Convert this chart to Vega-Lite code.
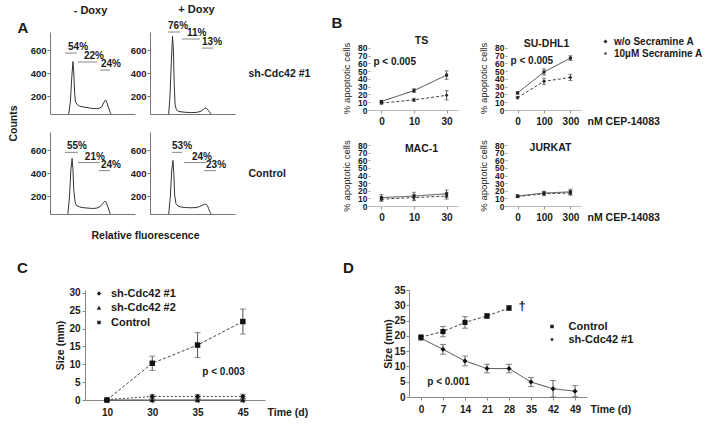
{
"$schema": "https://vega.github.io/schema/vega-lite/v6.json",
"background": "white",
"padding": {"left": 8, "top": 4, "right": 0, "bottom": 0},
"config": {
  "font": "Liberation Sans",
  "view": {"stroke": null},
  "axis": {"labelFontWeight": "bold", "labelColor": "#1a1a1a", "titleFontWeight": "bold", "titleColor": "#1a1a1a", "domainColor": "#888", "tickColor": "#888", "grid": false, "labelFontSize": 10, "titleFontSize": 10.5, "tickSize": 3},
  "title": {"fontWeight": "bold", "color": "#1a1a1a"},
  "legend": {"labelFontWeight": "bold", "labelColor": "#1a1a1a"}
},
"resolve": {"scale": {"strokeDash": "independent"}},
"spacing": 19,
"vconcat": [
{
 "spacing": 21,
 "resolve": {"scale": {"strokeDash": "independent"}},
 "hconcat": [
 {
  "columns": 2,
  "bounds": "flush",
  "spacing": {"row": 18, "column": 15},
  "concat": [
   {
    "width": 85, "height": 82,
    "title": {"text": "- Doxy", "fontSize": 11, "offset": 4, "dx": -2},
    "data": {"values": [
     {"k":"h","x":22,"n":44},{"k":"h","x":24,"n":150},{"k":"h","x":25.5,"n":350},{"k":"h","x":27,"n":500},{"k":"h","x":28,"n":400},{"k":"h","x":29,"n":220},{"k":"h","x":30,"n":150},{"k":"h","x":32,"n":125},{"k":"h","x":35,"n":112},{"k":"h","x":40,"n":104},{"k":"h","x":45,"n":98},{"k":"h","x":50,"n":92},{"k":"h","x":55,"n":90},{"k":"h","x":58,"n":94},{"k":"h","x":61,"n":108},{"k":"h","x":63,"n":140},{"k":"h","x":65,"n":163},{"k":"h","x":66,"n":160},{"k":"h","x":67,"n":140},{"k":"h","x":69,"n":95},{"k":"h","x":71,"n":55},{"k":"h","x":72,"n":44},
     {"k":"g","x":17.6,"x2":31.8,"n":574,"tx":21.2,"t":"54%"},
     {"k":"g","x":32.9,"x2":55.3,"n":496,"tx":40,"t":"22%"},
     {"k":"g","x":58.8,"x2":70.6,"n":426,"tx":60,"t":"24%"}
    ]},
    "resolve": {"axis": {"x": "independent"}},
    "layer": [
     {"transform": [{"filter": "datum.k == 'h'"}], "mark": {"type": "line", "stroke": "#333", "strokeWidth": 1, "clip": true},
      "encoding": {"x": {"field": "x", "type": "quantitative", "scale": {"domain": [0, 100], "nice": false}, "axis": {"title": null, "labels": false, "ticks": false, "domainColor": "#777"}},
                   "y": {"field": "n", "type": "quantitative", "scale": {"domain": [44, 757], "nice": false, "zero": false}, "axis": {"title": "Counts", "titleX": -37, "titleY": 91, "titleBaseline": "middle", "titleFontSize": 10.5, "values": [200, 400, 600], "tickSize": 3, "labelFontSize": 9.5, "labelPadding": 1, "domainColor": "#777", "tickColor": "#777"}}}},
     {"transform": [{"filter": "datum.k == 'g'"}], "mark": {"type": "rule", "stroke": "#888", "strokeWidth": 1},
      "encoding": {"x": {"field": "x", "type": "quantitative", "axis": null}, "x2": {"field": "x2"},
                   "y": {"field": "n", "type": "quantitative", "axis": {"title": "Counts", "titleX": -37, "titleY": 91, "titleBaseline": "middle", "titleFontSize": 10.5, "values": [200, 400, 600], "tickSize": 3, "labelFontSize": 9.5, "labelPadding": 1, "domainColor": "#777", "tickColor": "#777"}}}},
     {"transform": [{"filter": "datum.k == 'g'"}], "mark": {"type": "text", "align": "left", "baseline": "middle", "dy": -6, "fontWeight": "bold", "fontSize": 10, "color": "#1a1a1a"},
      "encoding": {"x": {"field": "tx", "type": "quantitative", "axis": {"orient": "top", "title": "A", "titleX": -33, "titleY": -5, "titleAlign": "left", "titleBaseline": "middle", "titleAngle": 0, "titleFontSize": 15, "labels": false, "ticks": false, "domain": false}},
                   "y": {"field": "n", "type": "quantitative", "axis": {"title": "Counts", "titleX": -37, "titleY": 91, "titleBaseline": "middle", "titleFontSize": 10.5, "values": [200, 400, 600], "tickSize": 3, "labelFontSize": 9.5, "labelPadding": 1, "domainColor": "#777", "tickColor": "#777"}}, "text": {"field": "t"}}}
    ]
   },
   {
    "width": 85, "height": 82,
    "title": {"text": "+ Doxy", "fontSize": 11, "offset": 6, "dx": 4},
    "data": {"values": [
     {"k":"h","x":22,"n":44},{"k":"h","x":23.5,"n":200},{"k":"h","x":25,"n":480},{"k":"h","x":26.5,"n":722},{"k":"h","x":27.5,"n":600},{"k":"h","x":28.5,"n":300},{"k":"h","x":29.5,"n":130},{"k":"h","x":31,"n":80},{"k":"h","x":34,"n":66},{"k":"h","x":40,"n":60},{"k":"h","x":48,"n":56},{"k":"h","x":55,"n":58},{"k":"h","x":60,"n":68},{"k":"h","x":63,"n":85},{"k":"h","x":65,"n":96},{"k":"h","x":67,"n":90},{"k":"h","x":69,"n":72},{"k":"h","x":71,"n":52},{"k":"h","x":72,"n":44},
     {"k":"g","x":21.2,"x2":35.3,"n":757,"tx":21.2,"t":"76%"},
     {"k":"g","x":37.6,"x2":58.8,"n":696,"tx":43.5,"t":"11%"},
     {"k":"g","x":61.2,"x2":74.1,"n":617,"tx":61.2,"t":"13%"}
    ]},
    "resolve": {"axis": {"y": "independent"}},
    "layer": [
     {"transform": [{"filter": "datum.k == 'h'"}], "mark": {"type": "line", "stroke": "#333", "strokeWidth": 1, "clip": true},
      "encoding": {"x": {"field": "x", "type": "quantitative", "scale": {"domain": [0, 100], "nice": false}, "axis": {"title": null, "labels": false, "ticks": false, "domainColor": "#777"}},
                   "y": {"field": "n", "type": "quantitative", "scale": {"domain": [44, 757], "nice": false, "zero": false}, "axis": {"title": null, "values": [200, 400, 600], "tickSize": 3, "labelFontSize": 9.5, "labelPadding": 1, "domainColor": "#777", "tickColor": "#777"}}}},
     {"transform": [{"filter": "datum.k == 'g'"}], "mark": {"type": "rule", "stroke": "#888", "strokeWidth": 1},
      "encoding": {"x": {"field": "x", "type": "quantitative", "axis": {"title": null, "labels": false, "ticks": false, "domainColor": "#777"}}, "x2": {"field": "x2"},
                   "y": {"field": "n", "type": "quantitative", "axis": {"orient": "right", "title": "sh-Cdc42 #1", "titleX": 13, "titleY": 41, "titleAngle": 0, "titleAlign": "left", "titleBaseline": "middle", "labels": false, "ticks": false, "domain": false, "titleFontSize": 10.5}}}},
     {"transform": [{"filter": "datum.k == 'g'"}], "mark": {"type": "text", "align": "left", "baseline": "middle", "dy": -6, "fontWeight": "bold", "fontSize": 10, "color": "#1a1a1a"},
      "encoding": {"x": {"field": "tx", "type": "quantitative", "axis": {"title": null, "labels": false, "ticks": false, "domainColor": "#777"}},
                   "y": {"field": "n", "type": "quantitative", "axis": null}, "text": {"field": "t"}}}
    ]
   },
   {
    "width": 85, "height": 82,
    "data": {"values": [
     {"k":"h","x":21,"n":44},{"k":"h","x":23,"n":200},{"k":"h","x":24.5,"n":420},{"k":"h","x":26,"n":527},{"k":"h","x":27,"n":430},{"k":"h","x":28,"n":250},{"k":"h","x":29.5,"n":150},{"k":"h","x":31,"n":118},{"k":"h","x":35,"n":105},{"k":"h","x":40,"n":98},{"k":"h","x":45,"n":95},{"k":"h","x":50,"n":92},{"k":"h","x":55,"n":95},{"k":"h","x":59,"n":108},{"k":"h","x":62,"n":135},{"k":"h","x":64,"n":152},{"k":"h","x":65,"n":156},{"k":"h","x":66,"n":148},{"k":"h","x":68,"n":108},{"k":"h","x":70,"n":62},{"k":"h","x":71,"n":44},
     {"k":"g","x":17.6,"x2":32.9,"n":580,"tx":20,"t":"55%"},
     {"k":"g","x":32.9,"x2":58.8,"n":491,"tx":41,"t":"21%"},
     {"k":"g","x":57.6,"x2":70.6,"n":421,"tx":60,"t":"24%"}
    ]},
    "layer": [
     {"transform": [{"filter": "datum.k == 'h'"}], "mark": {"type": "line", "stroke": "#333", "strokeWidth": 1, "clip": true},
      "encoding": {"x": {"field": "x", "type": "quantitative", "scale": {"domain": [0, 100], "nice": false}, "axis": {"title": "Relative fluorescence", "titleX": 95, "titleY": 21, "titleAlign": "center", "titleBaseline": "middle", "titleFontSize": 10.5, "labels": false, "ticks": false, "domainColor": "#777"}},
                   "y": {"field": "n", "type": "quantitative", "scale": {"domain": [44, 757], "nice": false, "zero": false}, "axis": {"title": null, "values": [200, 400, 600], "tickSize": 3, "labelFontSize": 9.5, "labelPadding": 1, "domainColor": "#777", "tickColor": "#777"}}}},
     {"transform": [{"filter": "datum.k == 'g'"}], "mark": {"type": "rule", "stroke": "#888", "strokeWidth": 1},
      "encoding": {"x": {"field": "x", "type": "quantitative", "axis": {"title": "Relative fluorescence", "titleX": 95, "titleY": 21, "titleAlign": "center", "titleBaseline": "middle", "titleFontSize": 10.5, "labels": false, "ticks": false, "domainColor": "#777"}}, "x2": {"field": "x2"},
                   "y": {"field": "n", "type": "quantitative", "axis": {"title": null, "values": [200, 400, 600], "tickSize": 3, "labelFontSize": 9.5, "labelPadding": 1, "domainColor": "#777", "tickColor": "#777"}}}},
     {"transform": [{"filter": "datum.k == 'g'"}], "mark": {"type": "text", "align": "left", "baseline": "middle", "dy": -6, "fontWeight": "bold", "fontSize": 10, "color": "#1a1a1a"},
      "encoding": {"x": {"field": "tx", "type": "quantitative", "axis": {"title": "Relative fluorescence", "titleX": 95, "titleY": 21, "titleAlign": "center", "titleBaseline": "middle", "titleFontSize": 10.5, "labels": false, "ticks": false, "domainColor": "#777"}},
                   "y": {"field": "n", "type": "quantitative", "axis": {"title": null, "values": [200, 400, 600], "tickSize": 3, "labelFontSize": 9.5, "labelPadding": 1, "domainColor": "#777", "tickColor": "#777"}}, "text": {"field": "t"}}}
    ]
   },
   {
    "width": 85, "height": 82,
    "data": {"values": [
     {"k":"h","x":22,"n":44},{"k":"h","x":24,"n":200},{"k":"h","x":25.5,"n":420},{"k":"h","x":27,"n":510},{"k":"h","x":28,"n":400},{"k":"h","x":29,"n":210},{"k":"h","x":30.5,"n":135},{"k":"h","x":33,"n":112},{"k":"h","x":37,"n":104},{"k":"h","x":42,"n":100},{"k":"h","x":48,"n":98},{"k":"h","x":54,"n":100},{"k":"h","x":58,"n":108},{"k":"h","x":61,"n":118},{"k":"h","x":64,"n":128},{"k":"h","x":66,"n":130},{"k":"h","x":67.5,"n":118},{"k":"h","x":69,"n":90},{"k":"h","x":71,"n":55},{"k":"h","x":72,"n":44},
     {"k":"g","x":25.9,"x2":37.6,"n":580,"tx":25.9,"t":"53%"},
     {"k":"g","x":40,"x2":65.9,"n":491,"tx":49.4,"t":"24%"},
     {"k":"g","x":63.5,"x2":77.6,"n":421,"tx":65.9,"t":"23%"}
    ]},
    "resolve": {"axis": {"y": "independent"}},
    "layer": [
     {"transform": [{"filter": "datum.k == 'h'"}], "mark": {"type": "line", "stroke": "#333", "strokeWidth": 1, "clip": true},
      "encoding": {"x": {"field": "x", "type": "quantitative", "scale": {"domain": [0, 100], "nice": false}, "axis": {"title": null, "labels": false, "ticks": false, "domainColor": "#777"}},
                   "y": {"field": "n", "type": "quantitative", "scale": {"domain": [44, 757], "nice": false, "zero": false}, "axis": {"title": null, "values": [200, 400, 600], "tickSize": 3, "labelFontSize": 9.5, "labelPadding": 1, "domainColor": "#777", "tickColor": "#777"}}}},
     {"transform": [{"filter": "datum.k == 'g'"}], "mark": {"type": "rule", "stroke": "#888", "strokeWidth": 1},
      "encoding": {"x": {"field": "x", "type": "quantitative", "axis": {"title": null, "labels": false, "ticks": false, "domainColor": "#777"}}, "x2": {"field": "x2"},
                   "y": {"field": "n", "type": "quantitative", "axis": {"orient": "right", "title": "Control", "titleX": 13, "titleY": 41, "titleAngle": 0, "titleAlign": "left", "titleBaseline": "middle", "labels": false, "ticks": false, "domain": false, "titleFontSize": 10.5}}}},
     {"transform": [{"filter": "datum.k == 'g'"}], "mark": {"type": "text", "align": "left", "baseline": "middle", "dy": -6, "fontWeight": "bold", "fontSize": 10, "color": "#1a1a1a"},
      "encoding": {"x": {"field": "tx", "type": "quantitative", "axis": {"title": null, "labels": false, "ticks": false, "domainColor": "#777"}},
                   "y": {"field": "n", "type": "quantitative", "axis": null}, "text": {"field": "t"}}}
    ]
   }
  ]
 },
 {
  "title": {"text": "B", "anchor": "start", "frame": "bounds", "fontSize": 15, "dx": -10, "offset": 1},
  "columns": 2,
  "bounds": "flush",
  "spacing": {"row": 35, "column": 49},
  "resolve": {"scale": {"strokeDash": "independent"}},
  "concat": [
   {
    "width": 88, "height": 78,
    "data": {"values": [
     {"k":"d","g":"w/o Secramine A","dose":"0","m":9,"lo":7.5,"hi":10.5},
     {"k":"d","g":"w/o Secramine A","dose":"10","m":13,"lo":11,"hi":15},
     {"k":"d","g":"w/o Secramine A","dose":"30","m":19,"lo":13,"hi":25},
     {"k":"d","g":"10µM Secramine A","dose":"0","m":11,"lo":9.5,"hi":12.5},
     {"k":"d","g":"10µM Secramine A","dose":"10","m":25,"lo":22.5,"hi":27.5},
     {"k":"d","g":"10µM Secramine A","dose":"30","m":45,"lo":39.5,"hi":50.5},
     {"k":"p","dose":"0","m":62,"lab":"p < 0.005"}
    ]},
    "resolve": {"axis": {"x": "independent"}},
    "layer": [
     {"transform": [{"filter": "datum.k == 'd'"}], "mark": {"type": "line", "color": "#444", "strokeWidth": 1},
      "encoding": {"x": {"field": "dose", "type": "ordinal", "sort": ["0", "10", "30"], "scale": {"type": "point", "padding": 0.35}, "axis": {"title": null, "labelAngle": 0, "labelFontSize": 10, "tickSize": 3, "labelPadding": 3, "domainColor": "#bbb", "tickColor": "#999"}},
       "y": {"field": "m", "type": "quantitative", "scale": {"domain": [0, 100.6], "nice": false}, "axis": {"title": "% apoptotic cells", "titleFontWeight": "normal", "titleFontSize": 9.5, "titleY": 46, "values": [0,10,20,30,40,50,60,70,80], "labelOverlap": false, "labelFontSize": 8.5, "labelPadding": 1, "tickSize": 2, "titlePadding": 6, "domain": false, "tickColor": "#999"}},
       "strokeDash": {"field": "g", "type": "nominal", "scale": {"domain": ["w/o Secramine A", "10µM Secramine A"], "range": [[3, 2], [1, 0]]}, "legend": null}}},
     {"transform": [{"filter": "datum.k == 'd'"}], "mark": {"type": "errorbar", "color": "#555", "ticks": {"size": 4}},
      "encoding": {"x": {"field": "dose", "type": "ordinal", "sort": ["0", "10", "30"], "axis": null},
       "y": {"field": "lo", "type": "quantitative", "title": "% apoptotic cells", "axis": {"title": "% apoptotic cells", "titleFontWeight": "normal", "titleFontSize": 9.5, "titleY": 46, "values": [0,10,20,30,40,50,60,70,80], "labelOverlap": false, "labelFontSize": 8.5, "labelPadding": 1, "tickSize": 2, "titlePadding": 6, "domain": false, "tickColor": "#999"}}, "y2": {"field": "hi"}}},
     {"transform": [{"filter": "datum.g == 'w/o Secramine A'"}], "mark": {"type": "point", "shape": "diamond", "filled": true, "color": "#222", "size": 14, "opacity": 1},
      "encoding": {"x": {"field": "dose", "type": "ordinal", "sort": ["0", "10", "30"], "axis": null},
       "y": {"field": "m", "type": "quantitative", "axis": {"title": "% apoptotic cells", "titleFontWeight": "normal", "titleFontSize": 9.5, "titleY": 46, "values": [0,10,20,30,40,50,60,70,80], "labelOverlap": false, "labelFontSize": 8.5, "labelPadding": 1, "tickSize": 2, "titlePadding": 6, "domain": false, "tickColor": "#999"}}}},
     {"transform": [{"filter": "datum.g == '10µM Secramine A'"}], "mark": {"type": "point", "shape": "square", "filled": true, "color": "#222", "size": 9, "opacity": 1},
      "encoding": {"x": {"field": "dose", "type": "ordinal", "sort": ["0", "10", "30"], "axis": {"orient": "top", "title": "TS", "titleX": 51, "titleY": 8, "titleAlign": "center", "titleBaseline": "middle", "titleFontSize": 10.5, "labels": false, "ticks": false, "domain": false}},
       "y": {"field": "m", "type": "quantitative", "axis": {"title": "% apoptotic cells", "titleFontWeight": "normal", "titleFontSize": 9.5, "titleY": 46, "values": [0,10,20,30,40,50,60,70,80], "labelOverlap": false, "labelFontSize": 8.5, "labelPadding": 1, "tickSize": 2, "titlePadding": 6, "domain": false, "tickColor": "#999"}}}},
     {"transform": [{"filter": "datum.k == 'p'"}], "mark": {"type": "text", "align": "left", "baseline": "middle", "dx": -8, "fontWeight": "bold", "fontSize": 10, "color": "#1a1a1a"},
      "encoding": {"x": {"field": "dose", "type": "ordinal", "sort": ["0", "10", "30"], "axis": null},
       "y": {"field": "m", "type": "quantitative", "axis": {"title": "% apoptotic cells", "titleFontWeight": "normal", "titleFontSize": 9.5, "titleY": 46, "values": [0,10,20,30,40,50,60,70,80], "labelOverlap": false, "labelFontSize": 8.5, "labelPadding": 1, "tickSize": 2, "titlePadding": 6, "domain": false, "tickColor": "#999"}}, "text": {"field": "lab"}}}
    ]
   },
   {
    "width": 74, "height": 78,
    "data": {"values": [
     {"k":"d","g":"w/o Secramine A","dose":"0","m":16,"lo":14.5,"hi":17.5},
     {"k":"d","g":"w/o Secramine A","dose":"100","m":37,"lo":33,"hi":41},
     {"k":"d","g":"w/o Secramine A","dose":"300","m":42,"lo":38,"hi":46},
     {"k":"d","g":"10µM Secramine A","dose":"0","m":22,"lo":20.5,"hi":23.5},
     {"k":"d","g":"10µM Secramine A","dose":"100","m":49,"lo":45,"hi":53},
     {"k":"d","g":"10µM Secramine A","dose":"300","m":67,"lo":64,"hi":70},
     {"k":"p","dose":"0","m":63,"lab":"p < 0.005"}
    ]},
    "resolve": {"axis": {"x": "independent"}},
    "layer": [
     {"transform": [{"filter": "datum.k == 'd'"}], "mark": {"type": "line", "color": "#444", "strokeWidth": 1},
      "encoding": {"x": {"field": "dose", "type": "ordinal", "sort": ["0", "100", "300"], "scale": {"type": "point", "padding": 0.4}, "axis": {"title": "nM CEP-14083", "titleX": 80, "titleY": 11, "titleAlign": "left", "titleBaseline": "middle", "titleFontSize": 10.5, "labelAngle": 0, "labelFontSize": 10, "tickSize": 3, "labelPadding": 3, "domainColor": "#bbb", "tickColor": "#999"}},
       "y": {"field": "m", "type": "quantitative", "scale": {"domain": [0, 100.6], "nice": false}, "axis": {"title": "% apoptotic cells", "titleFontWeight": "normal", "titleFontSize": 9.5, "titleY": 46, "values": [0,10,20,30,40,50,60,70,80], "labelOverlap": false, "labelFontSize": 8.5, "labelPadding": 1, "tickSize": 2, "titlePadding": 6, "domain": false, "tickColor": "#999"}},
       "strokeDash": {"field": "g", "type": "nominal", "scale": {"domain": ["w/o Secramine A", "10µM Secramine A"], "range": [[3, 2], [1, 0]]},
         "legend": {"orient": "none", "legendX": 93, "legendY": 4, "title": null, "labelFontSize": 10, "labelOffset": 3, "rowPadding": 1, "symbolSize": 100, "symbolStrokeWidth": 1, "symbolStrokeColor": "#333", "symbolFillColor": "#222",
           "encode": {"symbols": {"update": {"shape": {"signal": "datum.value == 'w/o Secramine A' ? 'M-1.7,0H1.7M0,-0.4L0.4,0L0,0.4L-0.4,0Z' : 'M-1.7,0H1.7M-0.22,-0.22H0.22V0.22H-0.22Z'"}, "fill": {"value": "#222"}}}}}}}},
     {"transform": [{"filter": "datum.k == 'd'"}], "mark": {"type": "errorbar", "color": "#555", "ticks": {"size": 4}},
      "encoding": {"x": {"field": "dose", "type": "ordinal", "sort": ["0", "100", "300"], "axis": null},
       "y": {"field": "lo", "type": "quantitative", "title": "% apoptotic cells", "axis": {"title": "% apoptotic cells", "titleFontWeight": "normal", "titleFontSize": 9.5, "titleY": 46, "values": [0,10,20,30,40,50,60,70,80], "labelOverlap": false, "labelFontSize": 8.5, "labelPadding": 1, "tickSize": 2, "titlePadding": 6, "domain": false, "tickColor": "#999"}}, "y2": {"field": "hi"}}},
     {"transform": [{"filter": "datum.g == 'w/o Secramine A'"}], "mark": {"type": "point", "shape": "diamond", "filled": true, "color": "#222", "size": 14, "opacity": 1},
      "encoding": {"x": {"field": "dose", "type": "ordinal", "sort": ["0", "100", "300"], "axis": null},
       "y": {"field": "m", "type": "quantitative", "axis": {"title": "% apoptotic cells", "titleFontWeight": "normal", "titleFontSize": 9.5, "titleY": 46, "values": [0,10,20,30,40,50,60,70,80], "labelOverlap": false, "labelFontSize": 8.5, "labelPadding": 1, "tickSize": 2, "titlePadding": 6, "domain": false, "tickColor": "#999"}}}},
     {"transform": [{"filter": "datum.g == '10µM Secramine A'"}], "mark": {"type": "point", "shape": "square", "filled": true, "color": "#222", "size": 9, "opacity": 1},
      "encoding": {"x": {"field": "dose", "type": "ordinal", "sort": ["0", "100", "300"], "axis": {"orient": "top", "title": "SU-DHL1", "titleX": 39, "titleY": 11, "titleAlign": "center", "titleBaseline": "middle", "titleFontSize": 10.5, "labels": false, "ticks": false, "domain": false}},
       "y": {"field": "m", "type": "quantitative", "axis": {"title": "% apoptotic cells", "titleFontWeight": "normal", "titleFontSize": 9.5, "titleY": 46, "values": [0,10,20,30,40,50,60,70,80], "labelOverlap": false, "labelFontSize": 8.5, "labelPadding": 1, "tickSize": 2, "titlePadding": 6, "domain": false, "tickColor": "#999"}}}},
     {"transform": [{"filter": "datum.k == 'p'"}], "mark": {"type": "text", "align": "left", "baseline": "middle", "dx": -7, "fontWeight": "bold", "fontSize": 10, "color": "#1a1a1a"},
      "encoding": {"x": {"field": "dose", "type": "ordinal", "sort": ["0", "100", "300"], "axis": null},
       "y": {"field": "m", "type": "quantitative", "axis": {"title": "% apoptotic cells", "titleFontWeight": "normal", "titleFontSize": 9.5, "titleY": 46, "values": [0,10,20,30,40,50,60,70,80], "labelOverlap": false, "labelFontSize": 8.5, "labelPadding": 1, "tickSize": 2, "titlePadding": 6, "domain": false, "tickColor": "#999"}}, "text": {"field": "lab"}}}
    ]
   },
   {
    "width": 88, "height": 61,
    "data": {"values": [
     {"k":"d","g":"w/o Secramine A","dose":"0","m":9,"lo":6,"hi":12},
     {"k":"d","g":"w/o Secramine A","dose":"10","m":11,"lo":7,"hi":15},
     {"k":"d","g":"w/o Secramine A","dose":"30","m":13,"lo":9,"hi":17},
     {"k":"d","g":"10µM Secramine A","dose":"0","m":11,"lo":7,"hi":15},
     {"k":"d","g":"10µM Secramine A","dose":"10","m":13,"lo":8,"hi":18},
     {"k":"d","g":"10µM Secramine A","dose":"30","m":16,"lo":11,"hi":21}
    ]},
    "resolve": {"axis": {"x": "independent"}},
    "layer": [
     {"mark": {"type": "line", "color": "#444", "strokeWidth": 1},
      "encoding": {"x": {"field": "dose", "type": "ordinal", "sort": ["0", "10", "30"], "scale": {"type": "point", "padding": 0.35}, "axis": {"title": null, "labelAngle": 0, "labelFontSize": 10, "tickSize": 3, "labelPadding": 3, "domainColor": "#bbb", "tickColor": "#999"}},
       "y": {"field": "m", "type": "quantitative", "scale": {"domain": [0, 80]}, "axis": {"title": "% apoptotic cells", "titleFontWeight": "normal", "titleFontSize": 9.5, "values": [0,10,20,30,40,50,60,70,80], "labelOverlap": false, "labelFontSize": 8.5, "labelPadding": 1, "tickSize": 2, "titlePadding": 6, "domain": false, "tickColor": "#999"}},
       "strokeDash": {"field": "g", "type": "nominal", "scale": {"domain": ["w/o Secramine A", "10µM Secramine A"], "range": [[3, 2], [1, 0]]}, "legend": null}}},
     {"mark": {"type": "errorbar", "color": "#555", "ticks": {"size": 4}},
      "encoding": {"x": {"field": "dose", "type": "ordinal", "sort": ["0", "10", "30"], "axis": null},
       "y": {"field": "lo", "type": "quantitative", "title": "% apoptotic cells", "axis": {"title": "% apoptotic cells", "titleFontWeight": "normal", "titleFontSize": 9.5, "values": [0,10,20,30,40,50,60,70,80], "labelOverlap": false, "labelFontSize": 8.5, "labelPadding": 1, "tickSize": 2, "titlePadding": 6, "domain": false, "tickColor": "#999"}}, "y2": {"field": "hi"}}},
     {"transform": [{"filter": "datum.g == 'w/o Secramine A'"}], "mark": {"type": "point", "shape": "diamond", "filled": true, "color": "#222", "size": 14, "opacity": 1},
      "encoding": {"x": {"field": "dose", "type": "ordinal", "sort": ["0", "10", "30"], "axis": null},
       "y": {"field": "m", "type": "quantitative", "axis": {"title": "% apoptotic cells", "titleFontWeight": "normal", "titleFontSize": 9.5, "values": [0,10,20,30,40,50,60,70,80], "labelOverlap": false, "labelFontSize": 8.5, "labelPadding": 1, "tickSize": 2, "titlePadding": 6, "domain": false, "tickColor": "#999"}}}},
     {"transform": [{"filter": "datum.g == '10µM Secramine A'"}], "mark": {"type": "point", "shape": "square", "filled": true, "color": "#222", "size": 9, "opacity": 1},
      "encoding": {"x": {"field": "dose", "type": "ordinal", "sort": ["0", "10", "30"], "axis": {"orient": "top", "title": "MAC-1", "titleX": 51, "titleY": 3, "titleAlign": "center", "titleBaseline": "middle", "titleFontSize": 10.5, "labels": false, "ticks": false, "domain": false}},
       "y": {"field": "m", "type": "quantitative", "axis": {"title": "% apoptotic cells", "titleFontWeight": "normal", "titleFontSize": 9.5, "values": [0,10,20,30,40,50,60,70,80], "labelOverlap": false, "labelFontSize": 8.5, "labelPadding": 1, "tickSize": 2, "titlePadding": 6, "domain": false, "tickColor": "#999"}}}}
    ]
   },
   {
    "width": 74, "height": 61,
    "data": {"values": [
     {"k":"d","g":"w/o Secramine A","dose":"0","m":12.5,"lo":11,"hi":14},
     {"k":"d","g":"w/o Secramine A","dose":"100","m":16,"lo":13.5,"hi":18.5},
     {"k":"d","g":"w/o Secramine A","dose":"300","m":17,"lo":14,"hi":20},
     {"k":"d","g":"10µM Secramine A","dose":"0","m":13,"lo":11.5,"hi":14.5},
     {"k":"d","g":"10µM Secramine A","dose":"100","m":17,"lo":14.5,"hi":19.5},
     {"k":"d","g":"10µM Secramine A","dose":"300","m":18.5,"lo":15,"hi":22}
    ]},
    "resolve": {"axis": {"x": "independent"}},
    "layer": [
     {"mark": {"type": "line", "color": "#444", "strokeWidth": 1},
      "encoding": {"x": {"field": "dose", "type": "ordinal", "sort": ["0", "100", "300"], "scale": {"type": "point", "padding": 0.4}, "axis": {"title": "nM CEP-14083", "titleX": 80, "titleY": 11, "titleAlign": "left", "titleBaseline": "middle", "titleFontSize": 10.5, "labelAngle": 0, "labelFontSize": 10, "tickSize": 3, "labelPadding": 3, "domainColor": "#bbb", "tickColor": "#999"}},
       "y": {"field": "m", "type": "quantitative", "scale": {"domain": [0, 80]}, "axis": {"title": "% apoptotic cells", "titleFontWeight": "normal", "titleFontSize": 9.5, "values": [0,10,20,30,40,50,60,70,80], "labelOverlap": false, "labelFontSize": 8.5, "labelPadding": 1, "tickSize": 2, "titlePadding": 6, "domain": false, "tickColor": "#999"}},
       "strokeDash": {"field": "g", "type": "nominal", "scale": {"domain": ["w/o Secramine A", "10µM Secramine A"], "range": [[3, 2], [1, 0]]}, "legend": null}}},
     {"mark": {"type": "errorbar", "color": "#555", "ticks": {"size": 4}},
      "encoding": {"x": {"field": "dose", "type": "ordinal", "sort": ["0", "100", "300"], "axis": null},
       "y": {"field": "lo", "type": "quantitative", "title": "% apoptotic cells", "axis": {"title": "% apoptotic cells", "titleFontWeight": "normal", "titleFontSize": 9.5, "values": [0,10,20,30,40,50,60,70,80], "labelOverlap": false, "labelFontSize": 8.5, "labelPadding": 1, "tickSize": 2, "titlePadding": 6, "domain": false, "tickColor": "#999"}}, "y2": {"field": "hi"}}},
     {"transform": [{"filter": "datum.g == 'w/o Secramine A'"}], "mark": {"type": "point", "shape": "diamond", "filled": true, "color": "#222", "size": 14, "opacity": 1},
      "encoding": {"x": {"field": "dose", "type": "ordinal", "sort": ["0", "100", "300"], "axis": null},
       "y": {"field": "m", "type": "quantitative", "axis": {"title": "% apoptotic cells", "titleFontWeight": "normal", "titleFontSize": 9.5, "values": [0,10,20,30,40,50,60,70,80], "labelOverlap": false, "labelFontSize": 8.5, "labelPadding": 1, "tickSize": 2, "titlePadding": 6, "domain": false, "tickColor": "#999"}}}},
     {"transform": [{"filter": "datum.g == '10µM Secramine A'"}], "mark": {"type": "point", "shape": "square", "filled": true, "color": "#222", "size": 9, "opacity": 1},
      "encoding": {"x": {"field": "dose", "type": "ordinal", "sort": ["0", "100", "300"], "axis": {"orient": "top", "title": "JURKAT", "titleX": 43, "titleY": 2, "titleAlign": "center", "titleBaseline": "middle", "titleFontSize": 10.5, "labels": false, "ticks": false, "domain": false}},
       "y": {"field": "m", "type": "quantitative", "axis": {"title": "% apoptotic cells", "titleFontWeight": "normal", "titleFontSize": 9.5, "values": [0,10,20,30,40,50,60,70,80], "labelOverlap": false, "labelFontSize": 8.5, "labelPadding": 1, "tickSize": 2, "titlePadding": 6, "domain": false, "tickColor": "#999"}}}}
    ]
   }
  ]
 }
 ]
},
{
 "spacing": 144,
 "bounds": "flush",
 "resolve": {"scale": {"strokeDash": "independent"}},
 "hconcat": [
 {
  "title": {"text": "C", "anchor": "start", "frame": "bounds", "fontSize": 15, "dx": -33, "offset": 12},
  "width": 215, "height": 110,
  "data": {"values": [
   {"k":"d","s":"sh-Cdc42 #1","day":"10","m":0.1,"lo":0,"hi":0.2},
   {"k":"d","s":"sh-Cdc42 #1","day":"30","m":1,"lo":0.5,"hi":1.5},
   {"k":"d","s":"sh-Cdc42 #1","day":"35","m":1,"lo":0.5,"hi":1.5},
   {"k":"d","s":"sh-Cdc42 #1","day":"45","m":1,"lo":0.4,"hi":1.6},
   {"k":"d","s":"sh-Cdc42 #2","day":"10","m":0,"lo":0,"hi":0},
   {"k":"d","s":"sh-Cdc42 #2","day":"30","m":0,"lo":0,"hi":0.3},
   {"k":"d","s":"sh-Cdc42 #2","day":"35","m":0,"lo":0,"hi":0.3},
   {"k":"d","s":"sh-Cdc42 #2","day":"45","m":0,"lo":0,"hi":0.3},
   {"k":"d","s":"Control","day":"10","m":0,"lo":0,"hi":0},
   {"k":"d","s":"Control","day":"30","m":10.3,"lo":8.3,"hi":12.3},
   {"k":"d","s":"Control","day":"35","m":15.4,"lo":11.9,"hi":18.9},
   {"k":"d","s":"Control","day":"45","m":22,"lo":18.5,"hi":25.5},
   {"k":"p","day":"45","m":7.8,"lab":"p < 0.003"}
  ]},
  "encoding": {"x": {"field": "day", "type": "ordinal", "sort": ["10", "30", "35", "45"], "scale": {"type": "point", "padding": 0.873, "align": 0.72}, "axis": {"title": "Time (d)", "titleX": 217, "titleY": 12, "titleAlign": "left", "titleBaseline": "middle", "titleFontSize": 10.5, "labelAngle": 0, "labelFontSize": 10, "tickSize": 3, "labelPadding": 4, "domainDash": [0, 35, 1000]}}},
  "layer": [
   {"transform": [{"filter": "datum.k == 'd'"}], "mark": {"type": "line", "color": "#444", "strokeWidth": 1},
    "encoding": {"y": {"field": "m", "type": "quantitative", "scale": {"domain": [0, 30.84], "nice": false}, "axis": {"title": "Size (mm)", "values": [0,5,10,15,20,25,30], "labelFontSize": 10, "titlePadding": 3, "offset": -35}},
     "strokeDash": {"field": "s", "type": "nominal", "scale": {"domain": ["sh-Cdc42 #1", "sh-Cdc42 #2", "Control"], "range": [[2, 2], [1, 0], [3, 2]]},
      "legend": {"orient": "none", "legendX": 43.5, "legendY": -2, "title": null, "labelFontSize": 11, "labelOffset": 6.5, "rowPadding": 2.5, "symbolSize": 100, "symbolStrokeWidth": 1, "symbolStrokeColor": "#333", "symbolFillColor": "#222",
       "encode": {"symbols": {"update": {"shape": {"signal": "datum.value == 'sh-Cdc42 #1' ? 'M-1.7,0H1.7M0,-0.45L0.45,0L0,0.45L-0.45,0Z' : datum.value == 'sh-Cdc42 #2' ? 'M-1.7,0H1.7M0,-0.45L0.45,0.35L-0.45,0.35Z' : 'M-1.7,0H1.7M-0.35,-0.35H0.35V0.35H-0.35Z'"}, "fill": {"value": "#222"}}}}}}}},
   {"transform": [{"filter": "datum.k == 'd'"}], "mark": {"type": "errorbar", "color": "#555", "ticks": {"size": 6}},
    "encoding": {"y": {"field": "lo", "type": "quantitative", "title": "Size (mm)", "axis": {"title": "Size (mm)", "values": [0,5,10,15,20,25,30], "labelFontSize": 10, "titlePadding": 3, "offset": -35}}, "y2": {"field": "hi"}}},
   {"transform": [{"filter": "datum.s == 'sh-Cdc42 #1'"}], "mark": {"type": "point", "shape": "diamond", "filled": true, "color": "#111", "size": 30, "opacity": 1},
    "encoding": {"y": {"field": "m", "type": "quantitative", "axis": {"title": "Size (mm)", "values": [0,5,10,15,20,25,30], "labelFontSize": 10, "titlePadding": 3, "offset": -35}}}},
   {"transform": [{"filter": "datum.s == 'sh-Cdc42 #2'"}], "mark": {"type": "point", "shape": "triangle-up", "filled": true, "color": "#111", "size": 30, "opacity": 1},
    "encoding": {"y": {"field": "m", "type": "quantitative", "axis": {"title": "Size (mm)", "values": [0,5,10,15,20,25,30], "labelFontSize": 10, "titlePadding": 3, "offset": -35}}}},
   {"transform": [{"filter": "datum.s == 'Control'"}], "mark": {"type": "point", "shape": "square", "filled": true, "color": "#111", "size": 30, "opacity": 1},
    "encoding": {"y": {"field": "m", "type": "quantitative", "axis": {"title": "Size (mm)", "values": [0,5,10,15,20,25,30], "labelFontSize": 10, "titlePadding": 3, "offset": -35}}}},
   {"transform": [{"filter": "datum.k == 'p'"}], "mark": {"type": "text", "align": "right", "baseline": "middle", "dx": 2, "fontWeight": "bold", "fontSize": 10, "color": "#1a1a1a"},
    "encoding": {"y": {"field": "m", "type": "quantitative", "axis": {"title": "Size (mm)", "values": [0,5,10,15,20,25,30], "labelFontSize": 10, "titlePadding": 3, "offset": -35}}, "text": {"field": "lab"}}}
  ]
 },
 {
  "title": {"text": "D", "anchor": "start", "frame": "bounds", "fontSize": 15, "dx": -41, "offset": 9},
  "width": 178, "height": 107,
  "data": {"values": [
   {"k":"d","s":"Control","day":0,"m":19.6,"lo":19,"hi":20.2},
   {"k":"d","s":"Control","day":7,"m":21.4,"lo":19.7,"hi":23.1},
   {"k":"d","s":"Control","day":14,"m":24.4,"lo":22.5,"hi":26.3},
   {"k":"d","s":"Control","day":21,"m":26.5,"lo":25.7,"hi":27.3},
   {"k":"d","s":"Control","day":28,"m":29.1,"lo":28.3,"hi":29.9},
   {"k":"d","s":"sh-Cdc42 #1","day":0,"m":19.2,"lo":18.6,"hi":19.8},
   {"k":"d","s":"sh-Cdc42 #1","day":7,"m":15.6,"lo":14,"hi":17.2},
   {"k":"d","s":"sh-Cdc42 #1","day":14,"m":11.8,"lo":10.2,"hi":13.4},
   {"k":"d","s":"sh-Cdc42 #1","day":21,"m":9.3,"lo":7.9,"hi":10.7},
   {"k":"d","s":"sh-Cdc42 #1","day":28,"m":9.3,"lo":7.9,"hi":10.7},
   {"k":"d","s":"sh-Cdc42 #1","day":35,"m":4.9,"lo":3.4,"hi":6.4},
   {"k":"d","s":"sh-Cdc42 #1","day":42,"m":2.7,"lo":0,"hi":5.4},
   {"k":"d","s":"sh-Cdc42 #1","day":49,"m":1.9,"lo":0.1,"hi":3.7},
   {"k":"p","day":2,"m":4.9,"lab":"p < 0.001","fs":10},
   {"k":"p","day":31,"m":29.9,"lab":"†","fs":13}
  ]},
  "encoding": {"x": {"field": "day", "type": "quantitative", "scale": {"domain": [-3.8, 52.8], "nice": false, "zero": false}, "axis": {"title": "Time (d)", "values": [0,7,14,21,28,35,42,49], "titleX": 181, "titleY": 12, "titleAlign": "left", "titleBaseline": "middle", "titleFontSize": 10.5, "labelFontSize": 10, "tickSize": 3, "labelPadding": 4}}},
  "layer": [
   {"transform": [{"filter": "datum.k == 'd'"}], "mark": {"type": "line", "color": "#444", "strokeWidth": 1},
    "encoding": {"y": {"field": "m", "type": "quantitative", "scale": {"domain": [0, 35]}, "axis": {"title": "Size (mm)", "values": [0,5,10,15,20,25,30,35], "labelFontSize": 10, "labelPadding": 1, "titlePadding": 0}},
     "strokeDash": {"field": "s", "type": "nominal", "scale": {"domain": ["Control", "sh-Cdc42 #1"], "range": [[3, 2], [1, 0]]},
      "legend": {"orient": "none", "legendX": 137.5, "legendY": 31, "title": null, "labelFontSize": 11, "labelOffset": 11, "rowPadding": 1, "symbolSize": 100, "symbolStrokeWidth": 1, "symbolStrokeColor": "#333", "symbolFillColor": "#222",
       "encode": {"symbols": {"update": {"shape": {"signal": "datum.value == 'Control' ? 'M-1.7,0H1.7M-0.35,-0.35H0.35V0.35H-0.35Z' : 'M-1.7,0H1.7M0,-0.35L0.35,0L0,0.35L-0.35,0Z'"}, "fill": {"value": "#222"}}}}}}}},
   {"transform": [{"filter": "datum.k == 'd'"}], "mark": {"type": "errorbar", "color": "#555", "ticks": {"size": 6}},
    "encoding": {"y": {"field": "lo", "type": "quantitative", "title": "Size (mm)", "axis": {"title": "Size (mm)", "values": [0,5,10,15,20,25,30,35], "labelFontSize": 10, "labelPadding": 1, "titlePadding": 0}}, "y2": {"field": "hi"}}},
   {"transform": [{"filter": "datum.s == 'Control'"}], "mark": {"type": "point", "shape": "square", "filled": true, "color": "#111", "size": 26, "opacity": 1},
    "encoding": {"y": {"field": "m", "type": "quantitative", "axis": {"title": "Size (mm)", "values": [0,5,10,15,20,25,30,35], "labelFontSize": 10, "labelPadding": 1, "titlePadding": 0}}}},
   {"transform": [{"filter": "datum.s == 'sh-Cdc42 #1'"}], "mark": {"type": "point", "shape": "diamond", "filled": true, "color": "#111", "size": 26, "opacity": 1},
    "encoding": {"y": {"field": "m", "type": "quantitative", "axis": {"title": "Size (mm)", "values": [0,5,10,15,20,25,30,35], "labelFontSize": 10, "labelPadding": 1, "titlePadding": 0}}}},
   {"transform": [{"filter": "datum.k == 'p'"}], "mark": {"type": "text", "align": "left", "baseline": "middle", "fontWeight": "bold", "color": "#1a1a1a"},
    "encoding": {"y": {"field": "m", "type": "quantitative", "axis": {"title": "Size (mm)", "values": [0,5,10,15,20,25,30,35], "labelFontSize": 10, "labelPadding": 1, "titlePadding": 0}}, "text": {"field": "lab"}, "size": {"field": "fs", "type": "quantitative", "scale": null}}}
  ]
 }
 ]
}
]
}
